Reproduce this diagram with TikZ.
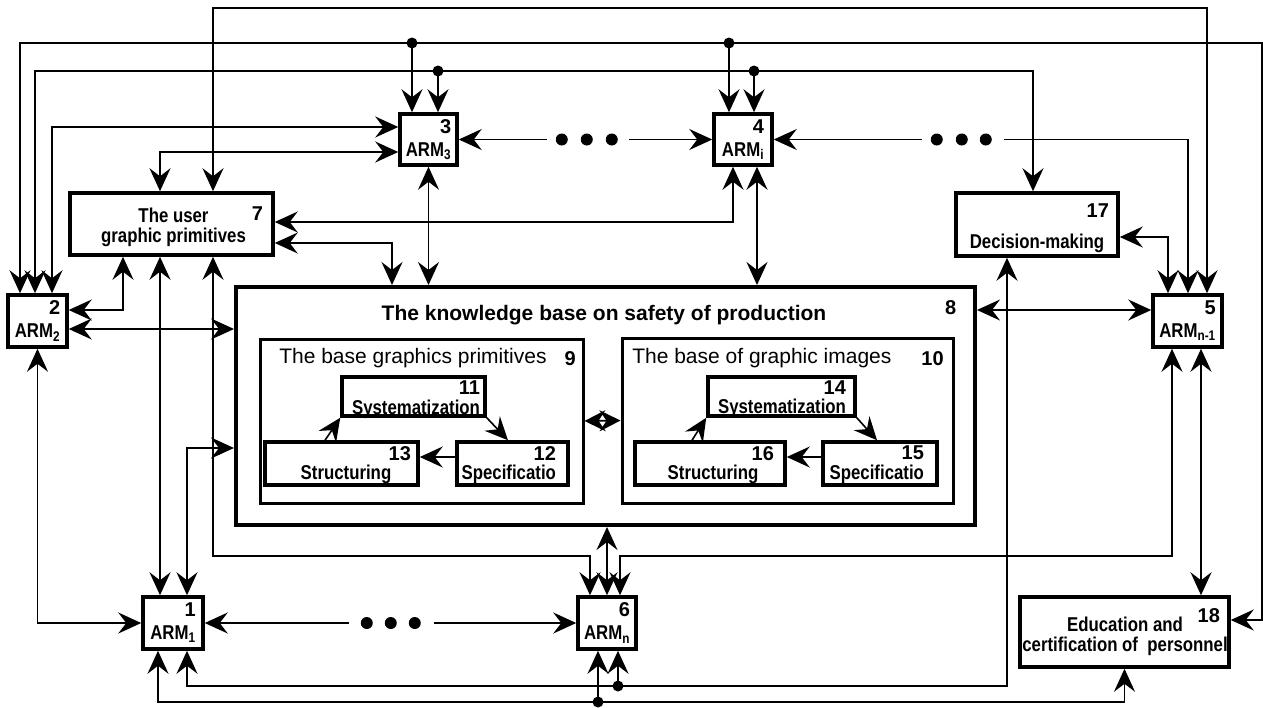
\documentclass[tikz,border=0pt]{standalone}
\usepackage{fontspec}
\setmainfont{Liberation Sans}
\newfontfamily\narrow[FakeStretch=0.84]{Liberation Sans}
\usetikzlibrary{arrows.meta,calc}
\newcommand{\drawblock}[7][]{%
    \node[block,#1,minimum width={#5-#3},minimum height={#6-#4}] (#2) at ({(#3+#5)/2},{(#4+#6)/2}) {#7};}

\begin{document}
\begin{tikzpicture}[x=1pt,y=-1pt,line width=1.6pt,
    >={Stealth[length=23pt,width=21pt,inset=8pt]},
    block/.style={draw,line width=3.5pt,inner sep=1pt},
    arm/.style={align=right,font=\narrow\bfseries\fontsize{20}{23}\selectfont},
    numlbl/.style={inner sep=0pt,anchor=north east,font=\bfseries\fontsize{20}{20}\selectfont},
    txt/.style={inner sep=0pt,font=\narrow\bfseries\fontsize{20}{20}\selectfont},
    plain/.style={inner sep=0pt,font=\fontsize{21}{21}\selectfont},
    smalltip/.style={>={Stealth[length=21pt,width=21pt,inset=7pt]}}]
\useasboundingbox (0,0) rectangle (1263,707);
% workstations
\drawblock[arm]{a3}{400}{114}{457}{165}{{\rmfamily 3}\\ARM\textsubscript{3}}
\drawblock[arm]{a4}{714}{114}{772}{165}{{\rmfamily 4}\\ARM\textsubscript{i}}
\drawblock[arm]{a2}{8}{295}{67}{347}{{\rmfamily 2}\\ARM\textsubscript{2}}
\drawblock[arm]{a5}{1153}{295}{1222}{347}{{\rmfamily 5}\\ARM\textsubscript{n-1}}
\drawblock[arm]{a1}{143}{597}{203}{649}{{\rmfamily 1}\\ARM\textsubscript{1}}
\drawblock[arm]{a6}{578}{597}{636}{649}{{\rmfamily 6}\\ARM\textsubscript{n}}
% big blocks
\drawblock{b7}{70}{193}{273}{255}{}
\drawblock{b17}{956}{193}{1118}{256}{}
\drawblock{b18}{1020}{597}{1229}{667}{}
\drawblock[line width=4pt]{b8}{236}{287}{975}{525}{}
\drawblock[line width=3pt]{b9}{260}{339}{583}{503}{}
\drawblock[line width=3pt]{b10}{622}{338}{953}{503}{}
% inner blocks
\drawblock{b11}{342}{377}{485}{416}{}
\drawblock{b12}{457}{442}{568}{485}{}
\drawblock{b13}{265}{442}{418}{485}{}
\drawblock{b14}{708}{377}{855}{416}{}
\drawblock{b15}{823}{442}{937}{485}{}
\drawblock{b16}{635}{442}{785}{485}{}
% texts and numbers
\node[txt,anchor=north,align=center] (t7) at ([xshift=2,yshift=-16]b7.north) {The user\\graphic primitives};
\node[numlbl] (n7) at ([xshift=-11,yshift=-15]b7.north east) {7};
\node[txt,anchor=base] (t17) at ([yshift=9]b17.south) {Decision-making};
\node[numlbl] (n17) at ([xshift=-10,yshift=-12]b17.north east) {17};
\node[txt,anchor=north,align=center] (t18) at ([xshift=0.5,yshift=-20.5]b18.north) {Education and\\certification of \ personnel};
\node[numlbl] (n18) at ([xshift=-10,yshift=-12]b18.north east) {18};
\node[plain,anchor=base,font=\bfseries\fontsize{21}{21}\selectfont] (t8) at ([xshift=-1.5,yshift=-35]b8.north) {The knowledge base on safety of production};
\node[numlbl] (n8) at ([xshift=-20,yshift=-15]b8.north east) {8};
\node[plain,anchor=base west] (t9) at ([xshift=20,yshift=-26]b9.north west) {The base graphics primitives};
\node[numlbl] (n9) at ([xshift=-8,yshift=-13]b9.north east) {9};
\node[plain,anchor=base west] (t10) at ([xshift=11,yshift=-27]b10.north west) {The base of graphic images};
\node[numlbl] (n10) at ([xshift=-10,yshift=-14]b10.north east) {10};
\node[txt,anchor=base east] (t11) at ([xshift=-6,yshift=3]b11.south east) {Systematization};
\node[numlbl] (n11) at ([xshift=-6,yshift=-5]b11.north east) {11};
\node[txt,anchor=base east] (t12) at ([xshift=-13,yshift=7]b12.south east) {Specificatio};
\node[numlbl] (n12) at ([xshift=-13,yshift=-5]b12.north east) {12};
\node[txt,anchor=base] (t13) at ([xshift=4.5,yshift=7]b13.south) {Structuring};
\node[numlbl] (n13) at ([xshift=-8,yshift=-5]b13.north east) {13};
\node[txt,anchor=base east] (t14) at ([xshift=-10,yshift=4]b14.south east) {Systematization};
\node[numlbl] (n14) at ([xshift=-10,yshift=-5]b14.north east) {14};
\node[txt,anchor=base east] (t15) at ([xshift=-14,yshift=7]b15.south east) {Specificatio};
\node[numlbl] (n15) at ([xshift=-14,yshift=-5]b15.north east) {15};
\node[txt,anchor=base] (t16) at ([xshift=3,yshift=7]b16.south) {Structuring};
\node[numlbl] (n16) at ([xshift=-12,yshift=-5]b16.north east) {16};
% rails
\coordinate (railA) at (0,8);
\coordinate (railB) at (1262,43);
\coordinate (railC) at (0,71);
\coordinate (railF) at (0,556);
\coordinate (railG) at (0,686);
\coordinate (railH) at (0,702);
% top buses
\draw[<->] ([xshift=41.5]b7.north) -- ([xshift=41.5]b7.north |- railA) -| ([xshift=19.5]a5.north);
\draw[<->] ([xshift=-17.5]a2.north) |- (railB) |- ([yshift=12]b18.east);
\draw[<->] ([xshift=-2.5]a2.north) -- ([xshift=-2.5]a2.north |- railC) -| ([xshift=-4]b17.north);
\coordinate (jB3) at ([xshift=-16.5]a3.north |- railB);
\coordinate (jB4) at ([xshift=-14]a4.north |- railB);
\coordinate (jC3) at ([xshift=9.5]a3.north |- railC);
\coordinate (jC4) at ([xshift=11]a4.north |- railC);
\foreach \j/\dx/\t in {jB3/-16.5/a3,jB4/-14/a4,jC3/9.5/a3,jC4/11/a4} {%
    \draw[->] (\j) -- ([xshift=\dx]\t.north);
    \fill (\j) circle (5.5);}
\draw[<->] ([xshift=14.5]a2.north) |- ([yshift=12.5]a3.west);
\draw[<->] ([xshift=-11.5]b7.north) |- ([yshift=-12.5]a3.west);
% a3 ... a4 ... a5
\draw[<-] (a3.east) -- ++(88,0);
\foreach \dx in {103,128,153} \fill ([xshift=\dx]a3.east) circle (6);
\draw[->] ([xshift=170]a3.east) -- (a4.west);
\draw[<-] (a4.east) -- ++(148,0);
\foreach \dx in {163,188,212} \fill ([xshift=\dx]a4.east) circle (6);
\draw[->] ([xshift=230]a4.east) -| ([xshift=0.5]a5.north);
\draw[<->] ([yshift=-12.5]b17.east) -| ([xshift=-19.5]a5.north);
% links round the knowledge base
\draw[<->] ([yshift=2]b7.east) -| ([xshift=-10]a4.south);
\draw[<->] ([yshift=-19]b7.east) -| ([xshift=-213.5]b8.north);
\draw[<->] (a3.south) -- (a3.south |- b8.north);
\draw[<->] ([xshift=14]a4.south) -- ([xshift=14]a4.south |- b8.north);
\draw[<->] ([yshift=11]a5.west -| b8.east) -- ([yshift=11]a5.west);
\draw[<->] ([yshift=11]a2.east) -| ([xshift=-48.5]b7.south);
\draw[<->] ([yshift=-8]a2.east) -- ([yshift=-8]a2.east -| b8.west);
\draw[<->] ([xshift=-11.5]b7.south) -- ([xshift=-11.5]b7.south |- a1.north);
\draw[<->] ([xshift=41.5]b7.south) -- ([xshift=41.5]b7.south |- railF) -| ([xshift=-17]a6.north);
\draw[<->] ([xshift=13]a6.north) -- ([xshift=13]a6.north |- railF) -| ([xshift=-15.5]a5.south);
\draw[<->] (a6.north |- b8.south) -- (a6.north);
\draw[<->] ([xshift=14]a1.north) |- ([yshift=-42]b8.west);
\draw[<->] (a2.south) |- (a1.west);
\draw[<->] ([xshift=13.5]a5.south) -- ([xshift=13.5]a5.south |- b18.north);
% a1 ... a6
\draw[<-] (a1.east) -- ++(144,0);
\foreach \dx in {162,186,210} \fill ([xshift=\dx]a1.east) circle (6);
\draw[->] ([xshift=229]a1.east) -- (a6.west);
% bottom buses
\draw[<->] ([xshift=-30]b17.south) -- ([xshift=-30]b17.south |- railG) -| ([xshift=14]a1.south);
\draw[<->] (b18.south) -- (b18.south |- railH) -| ([xshift=-15]a1.south);
\coordinate (jG) at ([xshift=11]a6.south |- railG);
\coordinate (jH) at ([xshift=-9]a6.south |- railH);
\draw[->] (jG) -- ([xshift=11]a6.south);
\draw[->] (jH) -- ([xshift=-9]a6.south);
\fill (jG) circle (5.5) (jH) circle (5.5);
% inside the knowledge base
\draw[<->,smalltip] (b9.east) -- (b10.west);
\draw[->] (b11.south east) -- ([xshift=-4.5]b12.north);
\draw[->] ([yshift=6.5]b12.west) -- ([yshift=6.5]b12.west -| b13.east);
\draw[->] ([xshift=-16.5]b13.north) -- (b11.south west);
\draw[->] (b14.south east) -- ([xshift=-3]b15.north);
\draw[->] ([yshift=6.5]b15.west) -- ([yshift=6.5]b15.west -| b16.east);
\draw[->] ([xshift=-18]b16.north) -- (b14.south west);
\end{tikzpicture}
\end{document}
